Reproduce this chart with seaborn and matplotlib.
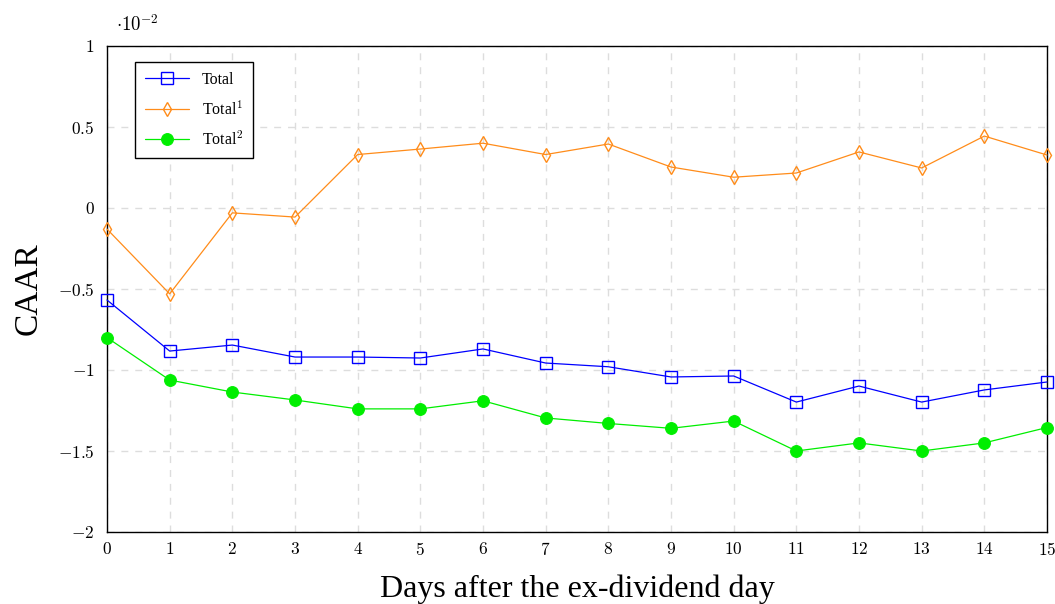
import matplotlib
matplotlib.use("Agg")
import matplotlib.pyplot as plt
import matplotlib.ticker as mticker
import seaborn as sns
import numpy as np

days = list(range(16))
total = [-0.568, -0.883, -0.846, -0.92, -0.92, -0.926, -0.87, -0.957, -0.98,
         -1.043, -1.037, -1.198, -1.099, -1.198, -1.123, -1.074]
total1 = [-0.13, -0.53, -0.03, -0.056, 0.33, 0.364, 0.40, 0.33, 0.395,
          0.253, 0.19, 0.216, 0.346, 0.247, 0.444, 0.327]
total2 = [-0.80, -1.062, -1.136, -1.185, -1.24, -1.24, -1.19, -1.296, -1.33,
          -1.36, -1.315, -1.50, -1.45, -1.50, -1.45, -1.355]
yticks = [-2, -1.5, -1, -0.5, 0, 0.5, 1]

sns.set_style("white")
plt.rcParams['mathtext.fontset'] = 'cm'
plt.rcParams['font.family'] = ['Liberation Serif', 'DejaVu Serif']
plt.rcParams['text.color'] = 'black'
plt.rcParams['axes.labelcolor'] = 'black'
plt.rcParams['xtick.color'] = 'black'
plt.rcParams['ytick.color'] = 'black'

fig = plt.figure(figsize=(10.55, 6.04), dpi=100)
ax = fig.add_axes([107/1055, 1-532/604, (1047-107)/1055, (532-46)/604])

sns.lineplot(x=days, y=total, ax=ax, color='#0000ff', lw=0.9, marker='s',
             markersize=8.5, markerfacecolor='none', markeredgecolor='#0000ff',
             markeredgewidth=1.0, label=r'Total', clip_on=False, zorder=3)
sns.lineplot(x=days, y=total1, ax=ax, color='#ff8c1a', lw=0.9, marker='d',
             markersize=7.5, markerfacecolor='none', markeredgecolor='#ff8c1a',
             markeredgewidth=1.0, label=r'Total$^1$', clip_on=False, zorder=3)
sns.lineplot(x=days, y=total2, ax=ax, color='#00ee00', lw=0.9, marker='o',
             markersize=8.5, markerfacecolor='#00ee00', markeredgecolor='#00ee00',
             label=r'Total$^2$', clip_on=False, zorder=3)

ax.set_xlim(0, 15)
ax.set_ylim(-2, 1)
ax.set_xticks(days)
ax.set_yticks(yticks)

def fmt(v, pos):
    if abs(v - round(v)) < 1e-9:
        s = str(int(round(v)))
    else:
        s = f"{v:g}"
    return r'$' + s + r'$'

ax.xaxis.set_major_formatter(mticker.FuncFormatter(fmt))
ax.yaxis.set_major_formatter(mticker.FuncFormatter(fmt))
ax.tick_params(axis='both', direction='in', length=0, labelsize=12.5)
ax.tick_params(axis='x', pad=7)
ax.tick_params(axis='y', pad=9)
ax.grid(True, linestyle=(0, (5, 5)), color='#dddddd', lw=1.0)
for s in ax.spines.values():
    s.set_visible(True)
    s.set_color('black')
    s.set_linewidth(1.0)

ax.set_xlabel('Days after the ex-dividend day', fontsize=23, labelpad=11)
ax.set_ylabel('CAAR', fontsize=24, labelpad=10)

fig.text(116/1055, 1-25/604, r'$\cdot 10^{-2}$', fontsize=13.5, va='center', ha='left')

leg = ax.legend(loc='upper left', bbox_to_anchor=(0.0214, 0.983), fontsize=11.5,
                frameon=True, fancybox=False, edgecolor='black', framealpha=1,
                handlelength=2.8, borderpad=0.6, labelspacing=0.75)
leg.get_frame().set_linewidth(1.0)

fig.savefig('out.png', dpi=100)
